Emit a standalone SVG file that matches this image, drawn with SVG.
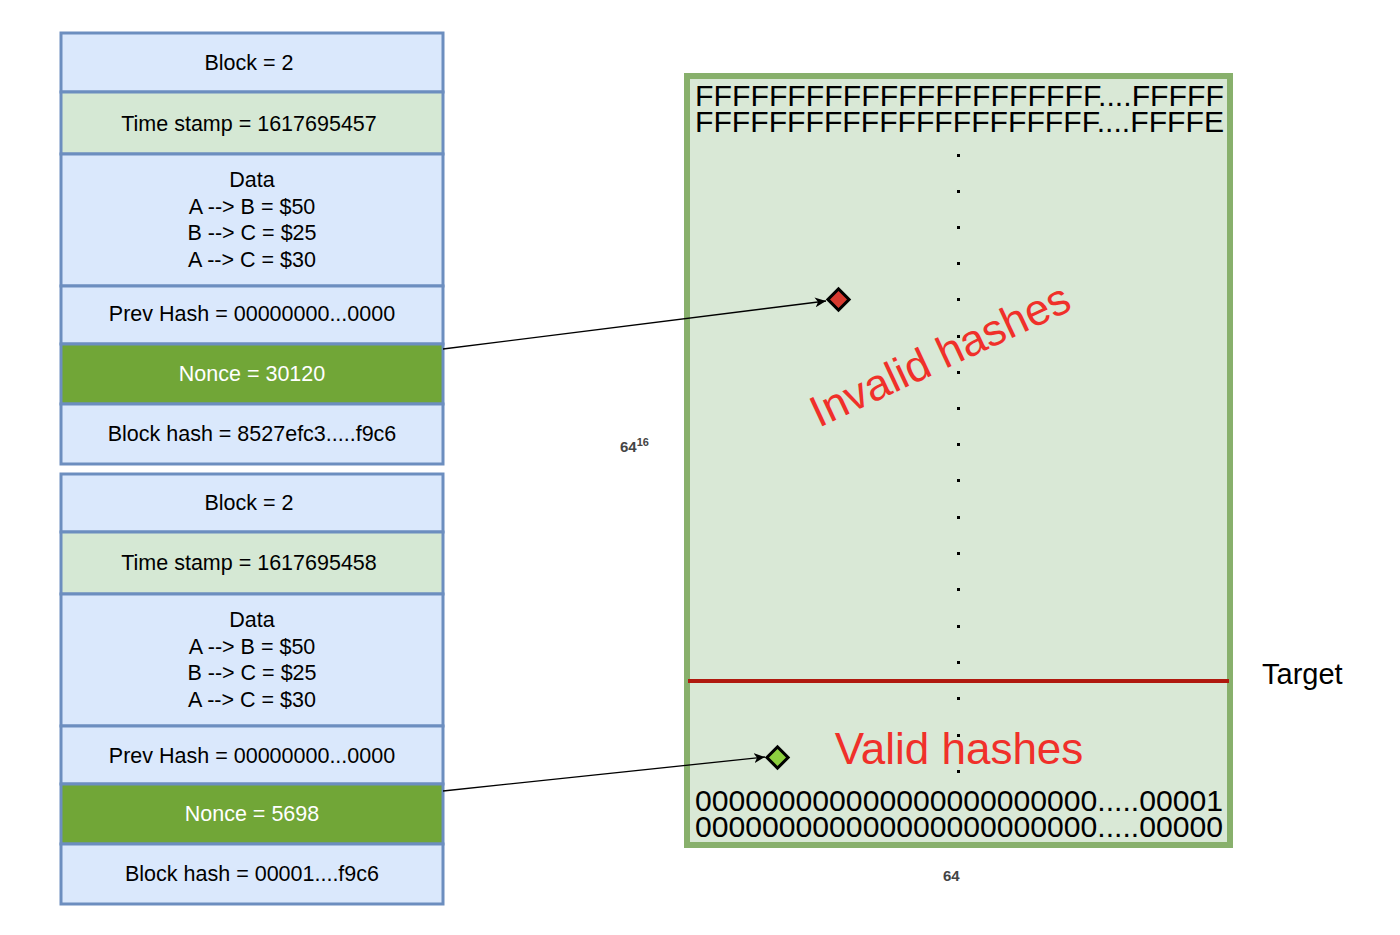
<svg xmlns="http://www.w3.org/2000/svg" width="1400" height="935" viewBox="0 0 1400 935">
<defs>
<style>
text{font-family:"Liberation Sans",Arial,sans-serif}
.b{fill:#dae8fc;stroke:#6c8ebf;stroke-width:3}
.g{fill:#d5e8d4;stroke:#6c8ebf;stroke-width:3}
.n{fill:#71a637;stroke:#6c8ebf;stroke-width:3}
.t{font-size:21.5px;fill:#000;text-anchor:middle}
.w{font-size:21.5px;fill:#fff;text-anchor:middle}
.h{font-size:30px;fill:#000}
.dot{fill:#000}
.lbl{font-size:15px;font-weight:bold;fill:#444}
</style>
<marker id="ar" markerWidth="12" markerHeight="10" refX="11" refY="5" orient="auto" markerUnits="userSpaceOnUse"><path d="M0,0 L11,5 L0,10 L3,5 Z" fill="#000"/></marker>
</defs>
<g id="block1">
<rect class="b" x="61" y="33" width="382" height="59"/><text class="t" x="249" y="70">Block = 2</text>
<rect class="g" x="61" y="92" width="382" height="62"/><text class="t" x="249" y="131">Time stamp = 1617695457</text>
<rect class="b" x="61" y="154" width="382" height="132"/>
<text class="t" x="252" y="187">Data</text><text class="t" x="252" y="214">A --&gt; B = $50</text><text class="t" x="252" y="240">B --&gt; C = $25</text><text class="t" x="252" y="267">A --&gt; C = $30</text>
<rect class="b" x="61" y="286" width="382" height="58"/><text class="t" x="252" y="321">Prev Hash = 00000000...0000</text>
<rect class="n" x="61" y="344" width="382" height="60"/><text class="w" x="252" y="381">Nonce = 30120</text>
<rect class="b" x="61" y="404" width="382" height="60"/><text class="t" x="252" y="441">Block hash = 8527efc3.....f9c6</text>
</g>
<g id="block2">
<rect class="b" x="61" y="474" width="382" height="58"/><text class="t" x="249" y="510">Block = 2</text>
<rect class="g" x="61" y="532" width="382" height="62"/><text class="t" x="249" y="570">Time stamp = 1617695458</text>
<rect class="b" x="61" y="594" width="382" height="132"/>
<text class="t" x="252" y="627">Data</text><text class="t" x="252" y="654">A --&gt; B = $50</text><text class="t" x="252" y="680">B --&gt; C = $25</text><text class="t" x="252" y="707">A --&gt; C = $30</text>
<rect class="b" x="61" y="726" width="382" height="58"/><text class="t" x="252" y="763">Prev Hash = 00000000...0000</text>
<rect class="n" x="61" y="784" width="382" height="60"/><text class="w" x="252" y="821">Nonce = 5698</text>
<rect class="b" x="61" y="844" width="382" height="60"/><text class="t" x="252" y="881">Block hash = 00001....f9c6</text>
</g>
<g id="hashspace">
<rect x="687" y="76" width="543" height="769" fill="#d9e8d6" stroke="#88b06c" stroke-width="6"/>
<text class="h" x="695" y="106" textLength="529" lengthAdjust="spacingAndGlyphs">FFFFFFFFFFFFFFFFFFFFFF....FFFFF</text>
<text class="h" x="695" y="132" textLength="529" lengthAdjust="spacingAndGlyphs">FFFFFFFFFFFFFFFFFFFFFF....FFFFE</text>
<g class="dot">
<rect x="957" y="154" width="3" height="3"/><rect x="957" y="190" width="3" height="3"/><rect x="957" y="226" width="3" height="3"/><rect x="957" y="262" width="3" height="3"/><rect x="957" y="298" width="3" height="3"/><rect x="957" y="335" width="3" height="3"/><rect x="957" y="371" width="3" height="3"/><rect x="957" y="407" width="3" height="3"/><rect x="957" y="443" width="3" height="3"/><rect x="957" y="479" width="3" height="3"/><rect x="957" y="516" width="3" height="3"/><rect x="957" y="552" width="3" height="3"/><rect x="957" y="588" width="3" height="3"/><rect x="957" y="625" width="3" height="3"/><rect x="957" y="661" width="3" height="3"/><rect x="957" y="697" width="3" height="3"/><rect x="957" y="734" width="3" height="3"/><rect x="957" y="770" width="3" height="3"/>
</g>
<rect x="688" y="679" width="541" height="4" fill="#b0190f"/>
<text class="h" x="695" y="811" textLength="528" lengthAdjust="spacingAndGlyphs">000000000000000000000000.....00001</text>
<text class="h" x="695" y="837" textLength="528" lengthAdjust="spacingAndGlyphs">000000000000000000000000.....00000</text>
<text x="940" y="370" font-size="44" fill="#f0302a" text-anchor="middle" transform="rotate(-25 940 355)">Invalid hashes</text>
<text x="959" y="764" font-size="44" fill="#f0302a" text-anchor="middle">Valid hashes</text>
</g>
<g id="invalid-point"><rect x="831" y="292" width="15" height="15" fill="#d73a30" stroke="#000" stroke-width="3" transform="rotate(45 838.5 299.5)"/></g>
<g id="valid-point"><rect x="770" y="750" width="15" height="15" fill="#8ccf3f" stroke="#000" stroke-width="3" transform="rotate(45 777.5 757.5)"/></g>
<text x="1262" y="684" font-size="29" fill="#000">Target</text>
<text class="lbl" x="620" y="452">64<tspan font-size="11" dy="-6">16</tspan></text>
<text class="lbl" x="943" y="881">64</text>
<g id="connectors" stroke="#000" stroke-width="1.3" fill="none">
<line x1="443" y1="349" x2="826" y2="301" marker-end="url(#ar)"/>
<line x1="443" y1="791" x2="765" y2="757" marker-end="url(#ar)"/>
</g>
</svg>
